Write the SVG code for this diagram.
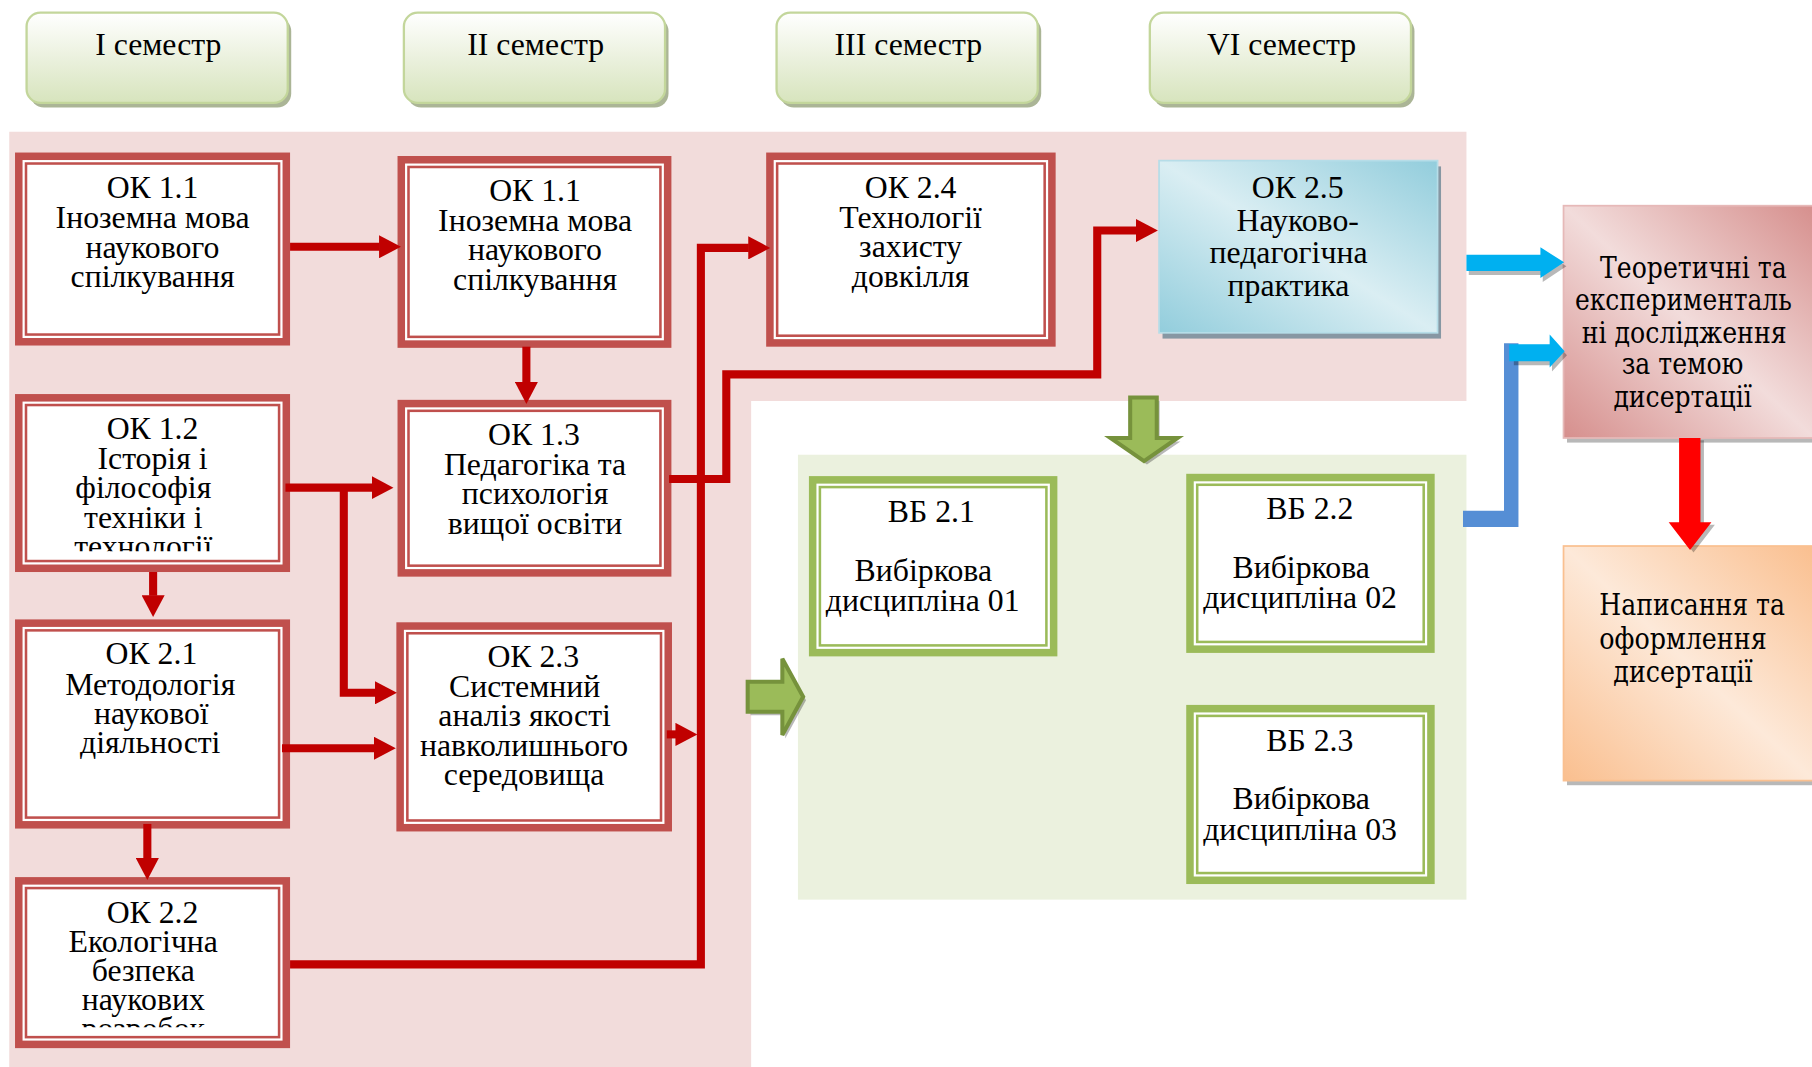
<svg xmlns="http://www.w3.org/2000/svg" width="1812" height="1067" viewBox="0 0 1812 1067">
<style>
.t{font-family:"Liberation Serif","Times New Roman",serif;font-size:27.5px;fill:#000;text-anchor:middle}
.b{font-family:"DejaVu Serif","Liberation Serif",serif;font-size:25px;fill:#000;text-anchor:middle}
.ro{fill:#c0504d}
.wi{fill:#fff}
.ri{fill:none;stroke:#c0504d;stroke-width:2.2}
.go{fill:#9bbb59}
.gi{fill:none;stroke:#9bbb59;stroke-width:2.2}
.hd{fill:url(#gh);stroke:#c3d69b;stroke-width:2}
.hs{fill:#abb596}
.cn{fill:none;stroke:#c00000;stroke-width:7;stroke-linejoin:miter;marker-end:url(#ar)}
.ga{fill:#9bbb59;stroke:#76923c;stroke-width:3.5;stroke-linejoin:miter}
.sh{fill:#000;opacity:.28}
.cy{fill:#00b0f0}
</style>
<defs>
<linearGradient id="gh" x1="0" y1="0" x2="0" y2="1">
<stop offset="0" stop-color="#ffffff"/><stop offset="0.5" stop-color="#ebf1de"/><stop offset="1" stop-color="#d7e4bd"/>
</linearGradient>
<linearGradient id="gb" x1="0" y1="1" x2="1" y2="0">
<stop offset="0" stop-color="#92cddc"/><stop offset="0.5" stop-color="#daeef3"/><stop offset="1" stop-color="#92cddc"/>
</linearGradient>
<linearGradient id="gp" x1="0" y1="1" x2="1" y2="0">
<stop offset="0" stop-color="#d68f8d"/><stop offset="0.5" stop-color="#f2dcdb"/><stop offset="1" stop-color="#d68f8d"/>
</linearGradient>
<linearGradient id="go" x1="0" y1="1" x2="1" y2="0">
<stop offset="0" stop-color="#fabf8f"/><stop offset="0.5" stop-color="#fde9d9"/><stop offset="1" stop-color="#fabf8f"/>
</linearGradient>
<marker id="ar" markerUnits="userSpaceOnUse" markerWidth="20" markerHeight="20" viewBox="0 0 20 20" refX="0.5" refY="10" orient="auto">
<path d="M0,0 L19,10 L0,20 z" fill="#c00000"/>
</marker>
<clipPath id="c12"><rect x="13" y="341" width="238" height="136"/></clipPath>
<clipPath id="c22"><rect x="13" y="759" width="238" height="130"/></clipPath>
</defs>
<g transform="scale(1.1556)">
<g id="backgrounds">
<polygon points="8,114 1269,114 1269,347 650,347 650,924 8,924" fill="#f2dcdb"/>
<rect x="690.5" y="393.5" width="578.5" height="385" fill="#ebf1de"/>
</g>

<g id="sem1">
<rect class="hs" x="26" y="15" width="226" height="78" rx="12"/>
<rect class="hd" x="23" y="11" width="226" height="78" rx="12"/>
<text class="t" x="137" y="48">I семестр</text>
</g>
<g id="sem2">
<rect class="hs" x="352.5" y="15" width="226" height="78" rx="12"/>
<rect class="hd" x="349.5" y="11" width="226" height="78" rx="12"/>
<text class="t" x="463.5" y="48">II семестр</text>
</g>
<g id="sem3">
<rect class="hs" x="675" y="15" width="226" height="78" rx="12"/>
<rect class="hd" x="672" y="11" width="226" height="78" rx="12"/>
<text class="t" x="786" y="48">III семестр</text>
</g>
<g id="sem6">
<rect class="hs" x="998" y="15" width="226" height="78" rx="12"/>
<rect class="hd" x="995" y="11" width="226" height="78" rx="12"/>
<text class="t" x="1109" y="48">VI семестр</text>
</g>

<g id="ok11a">
<rect class="ro" x="13" y="132" width="238" height="167"/>
<rect class="wi" x="19.5" y="138.5" width="225" height="154"/>
<rect class="ri" x="22.5" y="141.5" width="219" height="148"/>
<text class="t"><tspan x="132" y="171.5">ОК 1.1</tspan><tspan x="132" y="197.5">Іноземна мова</tspan><tspan x="132" y="223">наукового</tspan><tspan x="132" y="248.5">спілкування</tspan></text>
</g>
<g id="ok11b">
<rect class="ro" x="344" y="135" width="237" height="166"/>
<rect class="wi" x="350.5" y="141.5" width="224" height="153"/>
<rect class="ri" x="353.5" y="144.5" width="218" height="147"/>
<text class="t"><tspan x="463" y="174">ОК 1.1</tspan><tspan x="463" y="199.5">Іноземна мова</tspan><tspan x="463" y="225">наукового</tspan><tspan x="463" y="251">спілкування</tspan></text>
</g>
<g id="ok12">
<rect class="ro" x="13" y="341" width="238" height="154"/>
<rect class="wi" x="19.5" y="347.5" width="225" height="141"/>
<rect class="ri" x="22.5" y="350.5" width="219" height="135"/>
<text class="t" clip-path="url(#c12)"><tspan x="132" y="379.5">ОК 1.2</tspan><tspan x="132" y="405.5">Історія і</tspan><tspan x="124" y="431">філософія</tspan><tspan x="124" y="456.5">техніки і</tspan><tspan x="124" y="482">технології</tspan></text>
</g>
<g id="ok13">
<rect class="ro" x="344" y="346" width="237" height="153"/>
<rect class="wi" x="350.5" y="352.5" width="224" height="140"/>
<rect class="ri" x="353.5" y="355.5" width="218" height="134"/>
<text class="t"><tspan x="462" y="385">ОК 1.3</tspan><tspan x="463" y="411">Педагогіка та</tspan><tspan x="463" y="436.5">психологія</tspan><tspan x="463" y="462">вищої освіти</tspan></text>
</g>
<g id="ok21">
<rect class="ro" x="13" y="536" width="238" height="181"/>
<rect class="wi" x="19.5" y="542.5" width="225" height="168"/>
<rect class="ri" x="22.5" y="545.5" width="219" height="162"/>
<text class="t"><tspan x="131" y="575">ОК 2.1</tspan><tspan x="130" y="601">Методологія</tspan><tspan x="131" y="626.5">наукової</tspan><tspan x="130" y="652">діяльності</tspan></text>
</g>
<g id="ok23">
<rect class="ro" x="343" y="538.5" width="238.5" height="181"/>
<rect class="wi" x="349.5" y="545" width="225.5" height="168"/>
<rect class="ri" x="352.5" y="548" width="219.5" height="162"/>
<text class="t"><tspan x="461.5" y="577">ОК 2.3</tspan><tspan x="454" y="603">Системний</tspan><tspan x="454" y="628.5">аналіз якості</tspan><tspan x="453.5" y="654">навколишнього</tspan><tspan x="453.5" y="679.5">середовища</tspan></text>
</g>
<g id="ok22">
<rect class="ro" x="13" y="759" width="238" height="148"/>
<rect class="wi" x="19.5" y="765.5" width="225" height="135"/>
<rect class="ri" x="22.5" y="768.5" width="219" height="129"/>
<text class="t" clip-path="url(#c22)"><tspan x="132" y="798.5">ОК 2.2</tspan><tspan x="124" y="824">Екологічна</tspan><tspan x="124" y="849">безпека</tspan><tspan x="124" y="874">наукових</tspan><tspan x="124" y="899">розробок</tspan></text>
</g>
<g id="ok24">
<rect class="ro" x="663" y="132" width="250.5" height="168"/>
<rect class="wi" x="669.5" y="138.5" width="237.5" height="155"/>
<rect class="ri" x="672.5" y="141.5" width="231.5" height="149"/>
<text class="t"><tspan x="788" y="171.5">ОК 2.4</tspan><tspan x="788" y="197">Технології</tspan><tspan x="788" y="222.5">захисту</tspan><tspan x="788" y="248">довкілля</tspan></text>
</g>
<g id="ok25">
<rect x="1006" y="144" width="241" height="149" fill="#8797a3"/>
<rect x="1003" y="139" width="241" height="149" fill="url(#gb)" stroke="#b6dde8" stroke-width="1.5"/>
<text class="t"><tspan x="1123" y="171.5">ОК 2.5</tspan><tspan x="1123" y="199.5">Науково-</tspan><tspan x="1115" y="228">педагогічна</tspan><tspan x="1115" y="256.5">практика</tspan></text>
</g>

<g id="vb21">
<rect class="go" x="700" y="412" width="215" height="156"/>
<rect class="wi" x="706.5" y="418.5" width="202" height="143"/>
<rect class="gi" x="709.5" y="421.5" width="196" height="137"/>
<text class="t"><tspan x="806" y="451.5">ВБ 2.1</tspan><tspan x="799" y="503">Вибіркова</tspan><tspan x="798.5" y="528.5">дисципліна 01</tspan></text>
</g>
<g id="vb22">
<rect class="go" x="1026.5" y="410" width="215" height="155"/>
<rect class="wi" x="1033" y="416.5" width="202" height="142"/>
<rect class="gi" x="1036" y="419.5" width="196" height="136"/>
<text class="t"><tspan x="1133.5" y="449.5">ВБ 2.2</tspan><tspan x="1126" y="500.5">Вибіркова</tspan><tspan x="1125" y="526.5">дисципліна 02</tspan></text>
</g>
<g id="vb23">
<rect class="go" x="1026.5" y="610" width="215" height="155"/>
<rect class="wi" x="1033" y="616.5" width="202" height="142"/>
<rect class="gi" x="1036" y="619.5" width="196" height="136"/>
<text class="t"><tspan x="1133.5" y="649.5">ВБ 2.3</tspan><tspan x="1126" y="700.5">Вибіркова</tspan><tspan x="1125" y="726.5">дисципліна 03</tspan></text>
</g>

<g id="research">
<rect class="sh" x="1356" y="182" width="217" height="201"/>
<rect x="1353" y="178" width="217" height="201" fill="url(#gp)" stroke="#e6b9b8" stroke-width="1.5"/>
<text class="b" x="1465.4" y="241" textLength="161.5" lengthAdjust="spacingAndGlyphs">Теоретичні та</text>
<text class="b" x="1456.7" y="268.5" textLength="187.6" lengthAdjust="spacingAndGlyphs">експерименталь</text>
<text class="b" x="1457.4" y="296.5" textLength="177.4" lengthAdjust="spacingAndGlyphs">ні дослідження</text>
<text class="b" x="1456" y="324" textLength="105.3" lengthAdjust="spacingAndGlyphs">за темою</text>
<text class="b" x="1456" y="352" textLength="119.7" lengthAdjust="spacingAndGlyphs">дисертації</text>
</g>
<g id="writing">
<rect class="sh" x="1356" y="476.5" width="217" height="203"/>
<rect x="1353" y="472.5" width="217" height="203" fill="url(#go)" stroke="#fac090" stroke-width="1.5"/>
<text class="b" x="1464.3" y="532.5" textLength="160.7" lengthAdjust="spacingAndGlyphs">Написання та</text>
<text class="b" x="1456.4" y="561.5" textLength="144.8" lengthAdjust="spacingAndGlyphs">оформлення</text>
<text class="b" x="1456.4" y="590.5" textLength="120.6" lengthAdjust="spacingAndGlyphs">дисертації</text>
</g>

<g id="connectors">
<path class="cn" d="M251,213.5 H328.5"/>
<path class="cn" d="M455.5,300 V331"/>
<path class="cn" d="M247,422 H322"/>
<path class="cn" d="M297.5,422 V599.5 H325"/>
<path class="cn" d="M132.5,495 V515.5"/>
<path class="cn" d="M244,647.5 H324"/>
<path class="cn" d="M127.5,713 V743"/>
<path class="cn" d="M251,834.5 H606.5 V214.5 H648"/>
<path class="cn" d="M577,635.5 H585"/>
<path class="cn" d="M579,414.5 H628.5 V324 H949.5 V199.5 H983.5"/>

<polygon class="sh" points="980.5,347 1003.5,347 1003.5,382 1021.5,382 992.5,402 963.5,382 980.5,382"/>
<polygon class="ga" points="978,344 1001,344 1001,379 1019,379 990,399 961,379 978,379"/>
<polygon class="sh" points="649.5,593 679.5,593 679.5,573 697.5,606 679.5,639 679.5,619 649.5,619"/>
<polygon class="ga" points="647,590 677,590 677,570 695,603 677,636 677,616 647,616"/>

<polygon class="sh" points="1271,224 1335,224 1335,217.5 1355.5,230.5 1335,244 1335,238 1271,238"/>
<polygon class="cy" points="1269,220.5 1333,220.5 1333,214 1353.5,227 1333,240.5 1333,234.5 1269,234.5"/>
<polygon points="1266,442 1301.5,442 1301.5,297 1314,297 1314,456 1266,456" fill="#558ed5"/>
<polygon class="sh" points="1310,301.5 1343,301.5 1343,293 1356,307.5 1343,321.5 1343,316 1310,316"/>
<polygon class="cy" points="1306,298 1341,298 1341,289.5 1354,304 1341,318 1341,312.5 1306,312.5"/>
<polygon class="sh" points="1456,381 1474.5,381 1474.5,454 1484,454 1465.5,478 1447,454 1456,454"/>
<polygon points="1453,379 1471.5,379 1471.5,452 1481,452 1462.5,476 1444,452 1453,452" fill="#ff0000"/>
</g>
</g>
</svg>
